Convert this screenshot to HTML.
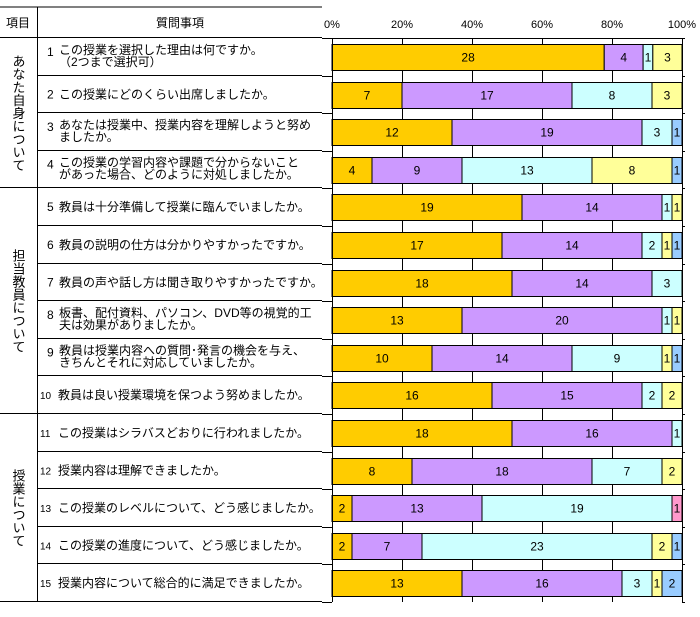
<!DOCTYPE html>
<html><head><meta charset="utf-8"><style>
body{margin:0;background:#fff}
svg text{font-family:"Liberation Sans","Noto Sans CJK JP",sans-serif;fill:#000}
</style></head><body>
<svg id="c" width="700" height="612" xmlns="http://www.w3.org/2000/svg">
<g id="table"></g>
<g id="plot"></g>
</svg>
<script>
const questions = [
 ["1","この授業を選択した理由は何ですか。","（2つまで選択可）"],
 ["2"," この授業にどのくらい出席しましたか。"],
 ["3","あなたは授業中、授業内容を理解しようと努め","ましたか。"],
 ["4","この授業の学習内容や課題で分からないこと","があった場合、どのように対処しましたか。"],
 ["5","教員は十分準備して授業に臨んでいましたか。"],
 ["6","教員の説明の仕方は分かりやすかったですか。"],
 ["7","教員の声や話し方は聞き取りやすかったですか。"],
 ["8","板書、配付資料、パソコン、DVD等の視覚的工","夫は効果がありましたか。"],
 ["9","教員は授業内容への質問･発言の機会を与え、","きちんとそれに対応していましたか。"],
 ["10","教員は良い授業環境を保つよう努めましたか。"],
 ["11","この授業はシラバスどおりに行われましたか。"],
 ["12","授業内容は理解できましたか。"],
 ["13","この授業のレベルについて、どう感じましたか。"],
 ["14","この授業の進度について、どう感じましたか。"],
 ["15","授業内容について総合的に満足できましたか。"]
];
const s1 = [28,7,12,4,19,17,18,13,10,16,18,8,2,2,13];
const s2 = [4,17,19,9,14,14,14,20,14,15,16,18,13,7,16];
const s3 = [1,8,3,13,1,2,3,1,9,2,1,7,19,23,3];
const s4 = [3,3,0,8,1,1,0,1,1,2,0,2,0,2,1];
const s5 = [0,0,1,1,0,1,0,0,1,0,0,0,0,1,2];
const s6 = [0,0,0,0,0,0,0,0,0,0,0,0,1,0,0];
const seriesColors = ["#FFCC00","#CC99FF","#CCFFFF","#FFFF99","#99CCFF","#FF99CC"];
const tickLabels = ["0%","20%","40%","60%","80%","100%"];
const sections = [["あなた自身について",0,4],["担当教員について",4,10],["授業について",10,15]];

const NS="http://www.w3.org/2000/svg";
const X0=332,X1=682,Y0=38,BAND=37.6;
const xs=p=>X0+(X1-X0)*p;
const yb=i=>Y0+BAND*i;
function mk(tag,attrs,parent,txt){const e=document.createElementNS(NS,tag);for(const k in attrs)e.setAttribute(k,attrs[k]);if(txt!==undefined)e.textContent=txt;parent.appendChild(e);return e;}
const plot=document.getElementById('plot'), table=document.getElementById('table');

// table lines
let l=mk('line',{x1:0,y1:7,x2:322,y2:7,stroke:'#000'},table);


l=mk('line',{x1:37.5,y1:7,x2:37.5,y2:602,stroke:'#000'},table);


let t=mk('text',{x:18,y:27,'font-size':12,'text-anchor':'middle'},table,'項目');


t=mk('text',{x:180,y:27,'font-size':12,'text-anchor':'middle'},table,'質問事項');


const secStarts=[0,4,10,15];
for(let i=0;i<=15;i++){
  const y=Math.round(yb(i))-0.5;
  const full=secStarts.includes(i);
  l=mk('line',{x1:full?0:37.5,y1:y,x2:322,y2:y,stroke:'#000'},table);
  
  
}
questions.forEach((q,i)=>{
  const cy=yb(i)+BAND/2;
  const g=mk('g',{},table);
  
  
  const two=q.length>2;
  const small=q[0].length>1;
  mk('text',{x:small?40:47,y:cy+(two?-1:4),'font-size':small?10:12},g,q[0]);
  if(two){
    mk('text',{x:59,y:cy-3,'font-size':12},g,q[1]);
    mk('text',{x:59,y:cy+9,'font-size':12},g,q[2]);
  } else {
    mk('text',{x:small?58:59,y:cy+4,'font-size':12},g,q[1]);
  }
});
sections.forEach(s=>{
  const cy=(yb(s[1])+yb(s[2]))/2;
  const e=mk('text',{x:18,y:cy,'font-size':13,'text-anchor':'middle','writing-mode':'tb','glyph-orientation-vertical':0,style:'writing-mode:vertical-rl;text-orientation:upright',transform:''},table,s[0]);
  
  
});

// ticks labels and gridlines
tickLabels.forEach((lab,i)=>{
  const x=xs(i/5);
  const e=mk('text',{x:x,y:28,'font-size':11,'text-anchor':'middle'},plot,lab);
  
  
  const g=mk('line',{x1:Math.round(x)+0.5,y1:Y0,x2:Math.round(x)+0.5,y2:602,stroke:'#000'},plot);
  
  
});
l=mk('line',{x1:X0,y1:Y0+0.5,x2:X1,y2:Y0+0.5,stroke:'#000'},plot);


for(let i=0;i<=15;i++){
  const y=Math.round(yb(i))+0.5;
  l=mk('line',{x1:X0-10,y1:y,x2:X0,y2:y,stroke:'#000'},plot);
  
  
  l=mk('line',{x1:X1,y1:y,x2:X1+3,y2:y,stroke:'#000'},plot);
  
  
}
const series=[s1,s2,s3,s4,s5,s6];
for(let i=0;i<15;i++){
  const tot=series.reduce((a,s)=>a+s[i],0);
  let acc=0;
  const by=Math.round(yb(i)+6)+0.5;
  series.forEach((s,k)=>{
    const v=s[i]; if(!v) return;
    const xa=xs(acc/tot), xb=xs((acc+v)/tot); acc+=v;
    const r=mk('rect',{x:xa,y:by,width:xb-xa,height:26,fill:seriesColors[k],stroke:'#000','stroke-width':1},plot);
    
    
    const tx=mk('text',{x:(xa+xb)/2,y:by+17,'font-size':12,'text-anchor':'middle'},plot,String(v));
    
    
  });
}
l=mk('line',{x1:X0+0.5,y1:Y0,x2:X0+0.5,y2:602,stroke:'#000'},plot);


</script>
</body></html>
